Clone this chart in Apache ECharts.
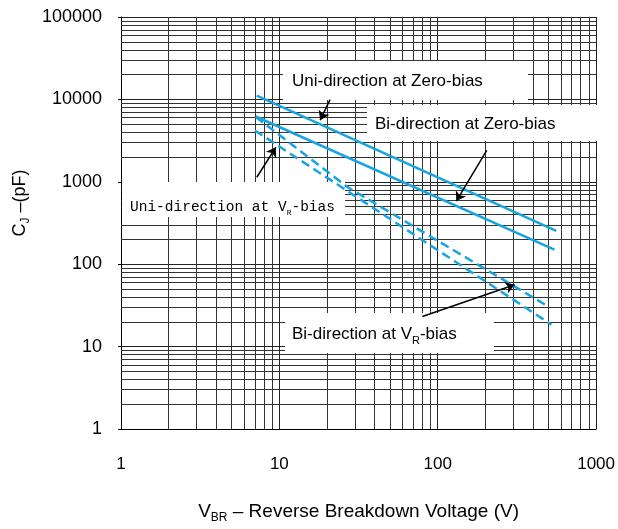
<!DOCTYPE html>
<html><head><meta charset="utf-8">
<script src="https://cdn.jsdelivr.net/npm/echarts@6/dist/echarts.min.js"></script>
<style>html,body{margin:0;padding:0;background:#fff}#c{width:618px;height:529px}</style>
</head><body><div id="c"></div>
<script>
// ---- data ----
const xTickLabels = ['1', '10', '100', '1000'];
const yTickLabels = ['1', '10', '100', '1000', '10000', '100000'];
const xMinor = [2,3,4,5,6,7,8,9, 20,30,40,50,60,70,80,90, 200,300,400,500,600,700,800,900];
const yMinor = [2,3,4,5,6,7,8,9, 20,30,40,50,60,70,80,90, 200,300,400,500,600,700,800,900,
                2000,3000,4000,5000,6000,7000,8000,9000, 20000,30000,40000,50000,60000,70000,80000,90000];
const uniZeroBias = [[7.2, 11100], [560, 253]];
const biZeroBias  = [[7.1, 6200], [545, 150]];
const biVRBias    = [[7.1, 6100], [27, 860], [500, 30.6]];
const uniVRBias   = [[7.0, 4200], [27, 770], [522, 18.5]];
const arrowUniZero = [[20.9, 9950], [18.1, 5600]];
const arrowBiZero  = [[204, 2410], [131, 583]];
const arrowUniVR   = [[7.2, 1136], [9.5, 2618]];
const arrowBiVR    = [[80, 23.2], [306, 56.4]];

const SANS = 'Liberation Sans, Arial, sans-serif';
const BLUE = '#17A5E2';

const chart = echarts.init(document.getElementById('c'), null, {renderer: 'canvas'});

function labelBox(x, y, w, h, tx, ty, text, rich) {
  return [
    {type: 'rect', z: 3, silent: true, shape: {x: x, y: y, width: w, height: h}, style: {fill: '#fff'}},
    {type: 'text', z: 4, silent: true, x: tx, y: ty, style: {text: text, rich: rich, verticalAlign: 'middle', align: 'left'}}
  ];
}
const richSans = {
  a: {fontFamily: SANS, fontSize: 17, color: '#000', lineHeight: 20, verticalAlign: 'bottom'},
  s: {fontFamily: SANS, fontSize: 11, color: '#000', lineHeight: 20, verticalAlign: 'bottom', padding: [0, 0, -3, 0]}
};
const richMono = {
  a: {fontFamily: 'Liberation Mono, monospace', fontSize: 14.5, color: '#444', lineHeight: 20, verticalAlign: 'bottom'},
  s: {fontFamily: 'Liberation Mono, monospace', fontSize: 8, color: '#444', lineHeight: 20, verticalAlign: 'bottom', padding: [0, 0, -2, 0]}
};

const option = {
  animation: false,
  backgroundColor: '#fff',
  grid: {left: 121, right: 18, top: 17, bottom: 98, containLabel: false},
  xAxis: {
    type: 'log', logBase: 10, min: 1, max: 1000,
    axisLine: {show: true, lineStyle: {color: '#000', width: 1}},
    axisTick: {show: false},
    splitLine: {show: true, lineStyle: {color: '#222', width: 1}},
    axisLabel: {fontFamily: SANS, fontSize: 17, color: '#000', margin: 27,
      formatter: v => xTickLabels[Math.round(Math.log10(v))]},
    name: '{a|V}{s|BR}{a| – Reverse Breakdown Voltage (V)}',
    nameLocation: 'middle', nameGap: 70,
    nameTextStyle: {rich: {
      a: {fontFamily: SANS, fontSize: 19, color: '#000', lineHeight: 22, verticalAlign: 'bottom'},
      s: {fontFamily: SANS, fontSize: 12, color: '#000', lineHeight: 22, verticalAlign: 'bottom', padding: [0, 0, -3, 0]}
    }}
  },
  yAxis: {
    type: 'log', logBase: 10, min: 1, max: 100000,
    axisLine: {show: true, lineStyle: {color: '#000', width: 1}},
    axisTick: {show: true, length: 3, lineStyle: {color: '#000'}},
    splitLine: {show: true, lineStyle: {color: '#222', width: 1}},
    axisLabel: {fontFamily: SANS, fontSize: 18, color: '#000', margin: 19,
      formatter: v => yTickLabels[Math.round(Math.log10(v))]}
  },
  graphic: [
    ...labelBox(283, 61, 245, 39, 292, 80, '{a|Uni-direction at Zero-bias}', richSans),
    ...labelBox(367, 105, 232, 36, 375, 123, '{a|Bi-direction at Zero-bias}', richSans),
    ...labelBox(122, 182, 223, 35, 130, 205, '{a|Uni-direction at V}{s|R}{a|-bias}', richMono),
    ...labelBox(285, 313, 209, 40, 292, 333, '{a|Bi-direction at V}{s|R}{a|-bias}', richSans),
    {type: 'text', z: 4, silent: true, x: 18, y: 203, rotation: Math.PI / 2,
      style: {text: '{a|C}{s|J}{a| –(pF)}', align: 'center', verticalAlign: 'middle', rich: {
        a: {fontFamily: SANS, fontSize: 18, color: '#000', lineHeight: 22, verticalAlign: 'bottom'},
        s: {fontFamily: SANS, fontSize: 12, color: '#000', lineHeight: 22, verticalAlign: 'bottom', padding: [0, 0, -3, 0]}
      }}}
  ],
  series: [
    {
      type: 'line', name: 'minorGrid', data: [], z: 1, silent: true,
      markLine: {
        z: 1, silent: true, animation: false, symbol: ['none', 'none'],
        label: {show: false}, emphasis: {disabled: true},
        lineStyle: {color: '#333', width: 1, type: 'solid'},
        data: [...xMinor.map(v => ({xAxis: v})), ...yMinor.map(v => ({yAxis: v}))]
      }
    },
    {type: 'line', name: 'Uni-direction at Zero-bias', data: uniZeroBias, z: 5, showSymbol: false, symbol: 'none',
      lineStyle: {color: BLUE, width: 2.5}},
    {type: 'line', name: 'Bi-direction at Zero-bias', data: biZeroBias, z: 5, showSymbol: false, symbol: 'none',
      lineStyle: {color: BLUE, width: 2.5}},
    {type: 'line', name: 'Bi-direction at VR-bias', data: biVRBias, z: 5, showSymbol: false, symbol: 'none',
      lineStyle: {color: BLUE, width: 2.5, type: [9, 5]}},
    {type: 'line', name: 'Uni-direction at VR-bias', data: uniVRBias, z: 5, showSymbol: false, symbol: 'none',
      lineStyle: {color: BLUE, width: 2.5, type: [9, 5]}},
    {
      type: 'line', name: 'arrows', data: [], z: 6, silent: true,
      markLine: {
        z: 10, silent: true, animation: false, symbol: ['none', 'arrow'], symbolSize: 9,
        label: {show: false}, emphasis: {disabled: true},
        lineStyle: {color: '#000', width: 1.5, type: 'solid'},
        data: [arrowUniZero, arrowBiZero, arrowUniVR, arrowBiVR].map(a => [{coord: a[0]}, {coord: a[1]}])
      }
    }
  ]
};
chart.setOption(option);
</script>
</body></html>
